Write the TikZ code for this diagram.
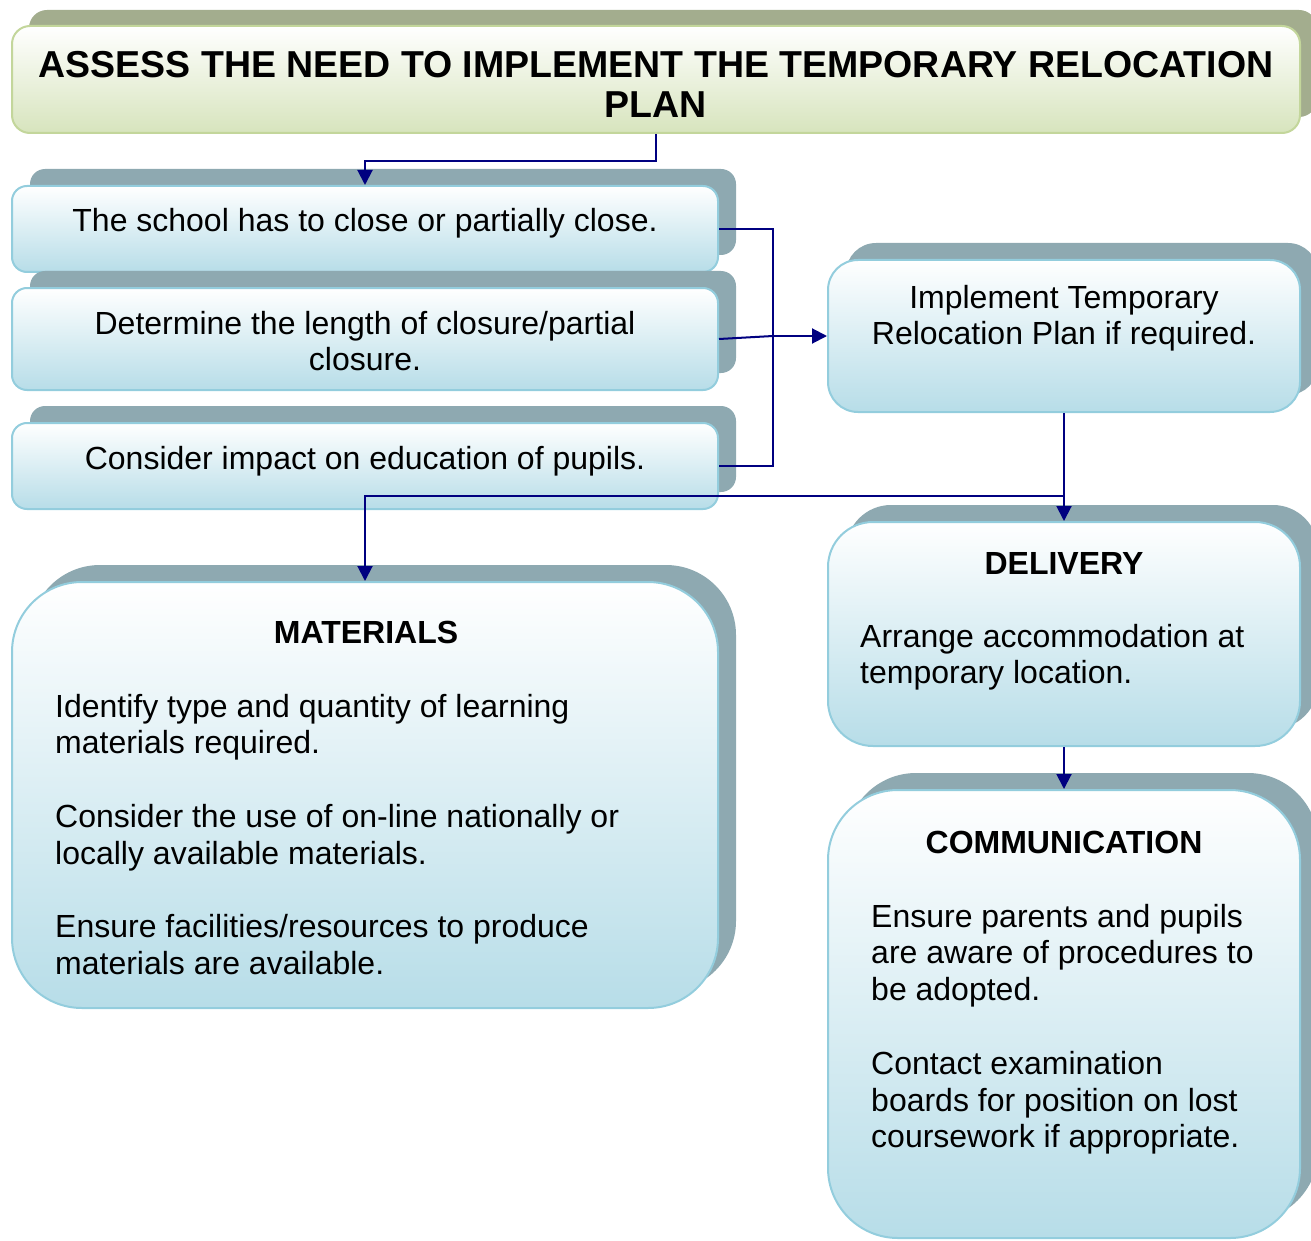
\documentclass[tikz,border=0pt]{standalone}
\usepackage{fontspec}
\setmainfont{Liberation Sans}
\usepackage{tikz}
\usetikzlibrary{arrows.meta,shadows,calc}

\definecolor{boxedge}{HTML}{93CDDD}
\definecolor{boxfill}{HTML}{B7DDE8}
\definecolor{boxshade}{HTML}{8EA9B1}
\definecolor{greenedge}{HTML}{C3D69B}
\definecolor{greenfill}{HTML}{D7E4BD}
\definecolor{greenshade}{HTML}{A3AD8E}
\definecolor{navyline}{HTML}{000080}

\tikzset{
  bluebox/.style={draw=boxedge, line width=2pt, rounded corners=#1, inner sep=0pt,
    top color=white, bottom color=boxfill,
    drop shadow={shadow xshift=18pt, shadow yshift=17pt, opacity=1, fill=boxshade}},
  bluebox/.default=15pt,
  greenbox/.style={draw=greenedge, line width=2pt, rounded corners=18pt, inner sep=0pt,
    top color=white, bottom color=greenfill,
    drop shadow={shadow xshift=17pt, shadow yshift=16pt, opacity=1, fill=greenshade}},
  txt/.style={inner sep=0pt, font=\fontsize{32}{36.8}\selectfont},
  headtxt/.style={inner sep=0pt, font=\bfseries\fontsize{32}{36.8}\selectfont},
  conn/.style={draw=navyline, line width=2pt},
  arr/.style={conn, -{Triangle[width=15pt,length=15pt]}},
}

\begin{document}
\begin{tikzpicture}[x=1pt,y=-1pt]
\useasboundingbox (0,0) rectangle (1311,1241);

% boxes
\node[greenbox, minimum width=1288pt, minimum height=107pt] (assess) at (656,79.5) {};
\node[bluebox, minimum width=706pt, minimum height=86pt] (close) at (365,229) {};
\node[bluebox, minimum width=706pt, minimum height=102pt] (length) at (365,339) {};
\node[bluebox, minimum width=706pt, minimum height=86pt] (impact) at (365,466) {};
\node[bluebox=30pt, minimum width=472pt, minimum height=152pt] (plan) at (1064,336) {};
\node[bluebox=70pt, minimum width=706pt, minimum height=426pt] (materials) at (365,795) {};
\node[bluebox=45pt, minimum width=472pt, minimum height=224pt] (delivery) at (1064,634) {};
\node[bluebox=70pt, minimum width=472pt, minimum height=448pt] (comm) at (1064,1014) {};

% texts
\node[headtxt, font=\bfseries\fontsize{37.5}{40}\selectfont, align=flush center, text width=1280pt, anchor=base]
  (assesstxt) at (656,78) {ASSESS THE NEED TO IMPLEMENT THE TEMPORARY RELOCATION\\PLAN};
\node[txt, anchor=base] (closetxt) at (365,232) {The school has to close or partially close.};
\node[txt, align=flush center, text width=690pt, anchor=base] (lengthtxt) at (365,334)
  {Determine the length of closure/partial\\closure.};
\node[txt, anchor=base] (impacttxt) at (365,469) {Consider impact on education of pupils.};
\node[txt, align=flush center, text width=460pt, anchor=base] (plantxt) at (1064,308)
  {Implement Temporary\\Relocation Plan if required.};

\node[headtxt, anchor=base] (mathead) at (366,643.5) {MATERIALS};
\node[txt, align=flush left, text width=640pt, anchor=base west] (mattxt) at (55,717)
  {Identify type and quantity of learning\\materials required.\\[36.8pt]
   Consider the use of on-line nationally or\\locally available materials.\\[36.8pt]
   Ensure facilities/resources to produce\\materials are available.};

\node[headtxt, anchor=base] (delhead) at (1064,574.5) {DELIVERY};
\node[txt, align=flush left, text width=420pt, anchor=base west] (deltxt) at (860,647)
  {Arrange accommodation at\\temporary location.};

\node[headtxt, anchor=base] (commhead) at (1064,853.5) {COMMUNICATION};
\node[txt, align=flush left, text width=420pt, anchor=base west] (commtxt) at (871,927)
  {Ensure parents and pupils\\are aware of procedures to\\be adopted.\\[36.8pt]
   Contact examination\\boards for position on lost\\coursework if appropriate.};

% connectors
\coordinate (bend) at (773,336);
\coordinate (split) at (1064,496);
\draw[arr] (assess.south) -- ++(0,27) -| (close.north);
\draw[conn] (close.east) -| (bend) |- (impact.east);
\draw[conn] (length.east) -- (bend);
\draw[arr] (bend) -- (plan.west);
\draw[arr] (plan.south) -- (delivery.north);
\draw[arr] (split) -| (materials.north);
\draw[arr] (delivery.south) -- (comm.north);
\end{tikzpicture}
\end{document}
